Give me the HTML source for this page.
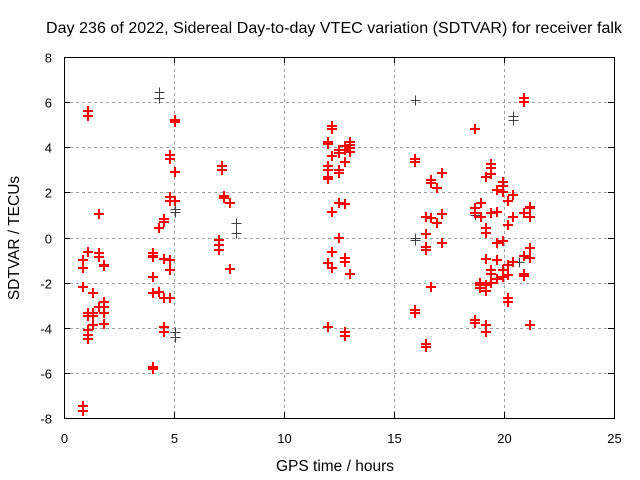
<!DOCTYPE html>
<html><head><meta charset="utf-8"><style>
body{margin:0;background:#fff;}
svg{display:block;font-family:"Liberation Sans",sans-serif;}
</style></head><body>
<svg id="chart" width="640" height="480">
<text x="334" y="33" text-anchor="middle" font-size="16" textLength="576">Day 236 of 2022, Sidereal Day-to-day VTEC variation (SDTVAR) for receiver falk</text>
<text x="335" y="471" text-anchor="middle" font-size="15.5">GPS time / hours</text>
<text transform="translate(19,238) rotate(-90)" text-anchor="middle" font-size="15.5">SDTVAR / TECUs</text>
<g id="grid"></g><g id="ticks"></g><g id="marks" shape-rendering="crispEdges"></g>
<rect x="64.5" y="57.5" width="550" height="361" fill="none" stroke="#000" stroke-width="1"/>
</svg>
<script>
const xTicks=[0,5,10,15,20,25];
const yTicks=[-8,-6,-4,-2,0,2,4,6,8];
const redX=[0.85,0.85,0.85,0.85,0.85,1.1,1.1,1.1,1.1,1.1,1.1,1.1,1.1,1.1,1.3,1.3,1.3,1.3,1.3,1.6,1.6,1.6,1.6,1.8,1.8,1.8,1.8,1.8,1.8,
4.05,4.05,4.05,4.05,4.05,4.05,4.05,4.3,4.3,4.55,4.55,4.55,4.55,4.55,4.55,4.8,4.8,4.8,4.8,4.8,4.8,4.8,5.05,5.05,5.05,5.05,
7.05,7.05,7.05,7.2,7.2,7.25,7.25,7.55,7.55,
12.0,12.0,12.0,12.0,12.0,12.0,12.0,12.0,12.2,12.2,12.2,12.2,12.2,12.2,12.5,12.5,12.5,12.5,12.5,12.5,12.75,12.75,12.75,12.75,12.75,12.75,12.75,12.75,13.0,13.0,13.0,13.0,13.0,
15.95,15.95,15.95,15.95,16.45,16.45,16.45,16.45,16.45,16.45,16.7,16.7,16.7,16.7,16.95,16.95,17.2,17.2,17.2,17.2,
18.7,18.7,18.7,18.7,18.7,18.9,18.9,18.9,18.95,18.95,19.2,19.2,19.2,19.2,19.2,19.2,19.2,19.2,19.4,19.4,19.4,19.4,19.4,19.4,19.4,
19.7,19.7,19.7,19.7,19.7,19.95,19.95,19.95,19.95,19.95,19.95,20.2,20.2,20.2,20.2,20.2,20.2,20.4,20.4,20.4,20.9,20.9,20.9,20.9,20.9,20.9,21.2,21.2,21.2,21.2,21.2,21.2];
const redY=[-7.45,-7.7,-2.2,-1.0,-1.35,5.6,5.4,-0.65,-3.35,-3.5,-4.1,-4.3,-4.5,-0.65,-2.45,-3.35,-3.5,-3.9,-3.35,1.05,-0.7,-0.85,-3.1,-1.2,-2.85,-3.1,-3.35,-3.85,-1.25,
-0.7,-0.85,-1.75,-2.45,-5.75,-5.85,-0.8,0.4,-2.4,0.8,0.7,-0.95,-2.7,-3.95,-4.2,3.65,3.5,1.8,1.6,-1.0,-1.45,-2.7,5.2,5.1,2.9,1.6,
-0.1,-0.35,-0.55,3.15,3.0,1.85,1.75,1.55,-1.4,
4.25,4.15,3.15,3.0,2.7,2.6,-1.15,-3.95,4.95,4.8,3.6,1.15,-0.65,-1.35,3.9,3.75,3.0,2.85,1.55,-0.02,4.05,3.9,3.35,1.5,-0.9,-1.1,-4.2,-4.35,4.25,4.1,3.95,3.8,-1.6,
3.5,3.35,-3.2,-3.35,0.9,0.15,-0.4,-0.55,-4.7,-4.85,2.55,2.4,0.85,-2.2,2.2,0.65,2.85,1.05,-0.25,-0.25,
4.8,1.3,1.1,-3.65,-3.8,-2.0,-2.1,-2.25,1.55,0.9,2.7,0.4,0.2,-0.95,-2.35,-3.9,-4.2,-2.1,3.25,3.1,2.8,1.1,-1.45,-1.6,-2.0,
2.1,1.15,-1.0,-1.85,-0.25,2.45,2.3,2.0,-0.15,-1.45,-1.75,1.6,0.55,-1.2,-1.65,-2.7,-2.85,1.9,0.9,-1.1,6.2,6.0,1.1,-0.8,-1.6,-1.7,1.35,1.3,0.9,-0.45,-0.9,-3.9];
const blackX=[4.3,4.3,5.05,5.05,5.05,5.05,7.8,7.8,15.95,15.95,15.95,20.4,20.4,18.7,19.7,20.7];
const blackY=[6.45,6.2,1.25,1.15,-4.2,-4.4,0.65,0.2,6.1,0.0,-0.1,5.4,5.2,1.0,-0.25,-1.1];
const X0=64,X1=614,Y0=418,Y1=57;
const sx=v=>X0+(v-0)/(25-0)*(X1-X0);
const sy=v=>Y0-(v+8)/16*(Y0-Y1);
const NS="http://www.w3.org/2000/svg";
function mk(tag,attrs,parent){const e=document.createElementNS(NS,tag);for(const k in attrs)e.setAttribute(k,attrs[k]);document.getElementById(parent).appendChild(e);return e;}
xTicks.forEach(t=>{const x=Math.round(sx(t))+0.5;
 if(t>0&&t<25){const g=mk('line',{x1:x,x2:x,y1:Y1,y2:Y0,stroke:'#a0a0a0','stroke-dasharray':'3,3'},'grid');
 
 }
 const tk=mk('path',{d:`M${x},${Y0}v-6M${x},${Y1}v6`,stroke:'#000'},'ticks');
 
 
 const lb=mk('text',{x:x,y:443,'text-anchor':'middle','font-size':13},'ticks');lb.textContent=t;
 
 });
yTicks.forEach(t=>{const y=Math.round(sy(t))+0.5;
 if(t>-8&&t<8){const g=mk('line',{x1:X0,x2:X1,y1:y,y2:y,stroke:'#a0a0a0','stroke-dasharray':'3,3'},'grid');
 
 }
 const tk=mk('path',{d:`M${X0},${y}h6M${X1},${y}h-6`,stroke:'#000'},'ticks');
 
 
 const lb=mk('text',{x:52,y:y+5,'text-anchor':'end','font-size':13},'ticks');lb.textContent=t;
 
 });
function plus(xs,ys,col,name,w){for(let i=0;i<xs.length;i++){
 const off=w===2?0:0.5;
 const x=Math.round(sx(xs[i]))+off,y=Math.round(sy(ys[i]))+off;
 const p=mk('path',{d:`M${x-5},${y}h10M${x},${y-5}v10`,stroke:col,'stroke-width':w},'marks');
 
 }}
plus(blackX,blackY,'#404040','black-point',1);
plus(redX,redY,'#ff0000','red-point',2);
</script>
</body></html>
